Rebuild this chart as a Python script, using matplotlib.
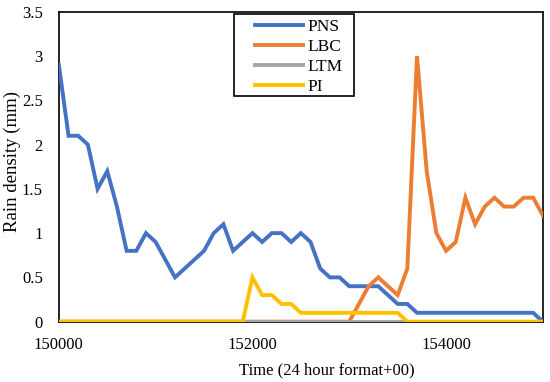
import matplotlib.pyplot as plt
from matplotlib.patches import Rectangle
import numpy as np

plt.rcParams['font.family'] = ['Liberation Serif', 'DejaVu Serif']

# time stamps hhmmss, one per minute from 15:00:00 to 15:50:00
time = np.arange(150000, 155001, 100)

pns = [2.9, 2.1, 2.1, 2.0, 1.5, 1.7, 1.3, 0.8, 0.8, 1.0,
       0.9, 0.7, 0.5, 0.6, 0.7, 0.8, 1.0, 1.1, 0.8, 0.9,
       1.0, 0.9, 1.0, 1.0, 0.9, 1.0, 0.9, 0.6, 0.5, 0.5,
       0.4, 0.4, 0.4, 0.4, 0.3, 0.2, 0.2, 0.1, 0.1, 0.1,
       0.1, 0.1, 0.1, 0.1, 0.1, 0.1, 0.1, 0.1, 0.1, 0.1,
       0.0]
lbc = [0.0] * 30 + [0.0, 0.2, 0.4, 0.5, 0.4, 0.3, 0.6, 3.0, 1.7, 1.0,
                    0.8, 0.9, 1.4, 1.1, 1.3, 1.4, 1.3, 1.3, 1.4, 1.4,
                    1.2]
ltm = [0.0] * 51
pi = [0.0] * 20 + [0.5, 0.3, 0.3, 0.2, 0.2, 0.1, 0.1, 0.1, 0.1, 0.1,
                   0.1, 0.1, 0.1, 0.1, 0.1, 0.1] + [0.0] * 15

series = [('PNS', pns, '#4472C4'), ('LBC', lbc, '#ED7D31'),
          ('LTM', ltm, '#A5A5A5'), ('PI', pi, '#FFC000')]

fig = plt.figure(figsize=(5.5, 3.82), dpi=100)
ax = fig.add_axes([0.107, 0.158, 0.88, 0.811])

for name, vals, c in series:
    ax.plot(time, vals, color=c, lw=2.8, label=name, zorder=3,
            solid_joinstyle='miter')

ax.set_xlim(150000, 155000)
ax.set_ylim(0, 3.5)
ax.set_xticks([150000, 152000, 154000])
ax.set_yticks(np.arange(0, 3.51, 0.5))
ax.set_yticklabels(['0', '0.5', '1', '1.5', '2', '2.5', '3', '3.5'])
ax.tick_params(length=0, labelsize=12)
ax.tick_params(axis='x', pad=11)
ax.tick_params(axis='y', pad=11.5)
for s in ax.spines.values():
    s.set_linewidth(1.2)
    s.set_color('black')

# axis titles placed like the excel original
fig.text(327 / 550, 1 - 370 / 382, 'Time (24 hour format+00)', fontsize=12,
         ha='center', va='center')
fig.text(12 / 550, 1 - 162 / 382, 'Rain density (mm)', fontsize=13.5,
         rotation=90, ha='center', va='center')

# legend without its own frame, box drawn separately for excel-style padding
leg = fig.legend(loc='upper left', bbox_to_anchor=(255 / 550, 1 - 19 / 382),
                 borderaxespad=0, borderpad=0, fontsize=12.5, frameon=False,
                 handlelength=2.76, handletextpad=0.29, labelspacing=0.22)
fig.add_artist(Rectangle((234 / 550, 1 - 96 / 382), 120 / 550, 82 / 382,
                         transform=fig.transFigure, fill=False,
                         edgecolor='black', lw=1.2))

fig.savefig('out.png', dpi=100)
